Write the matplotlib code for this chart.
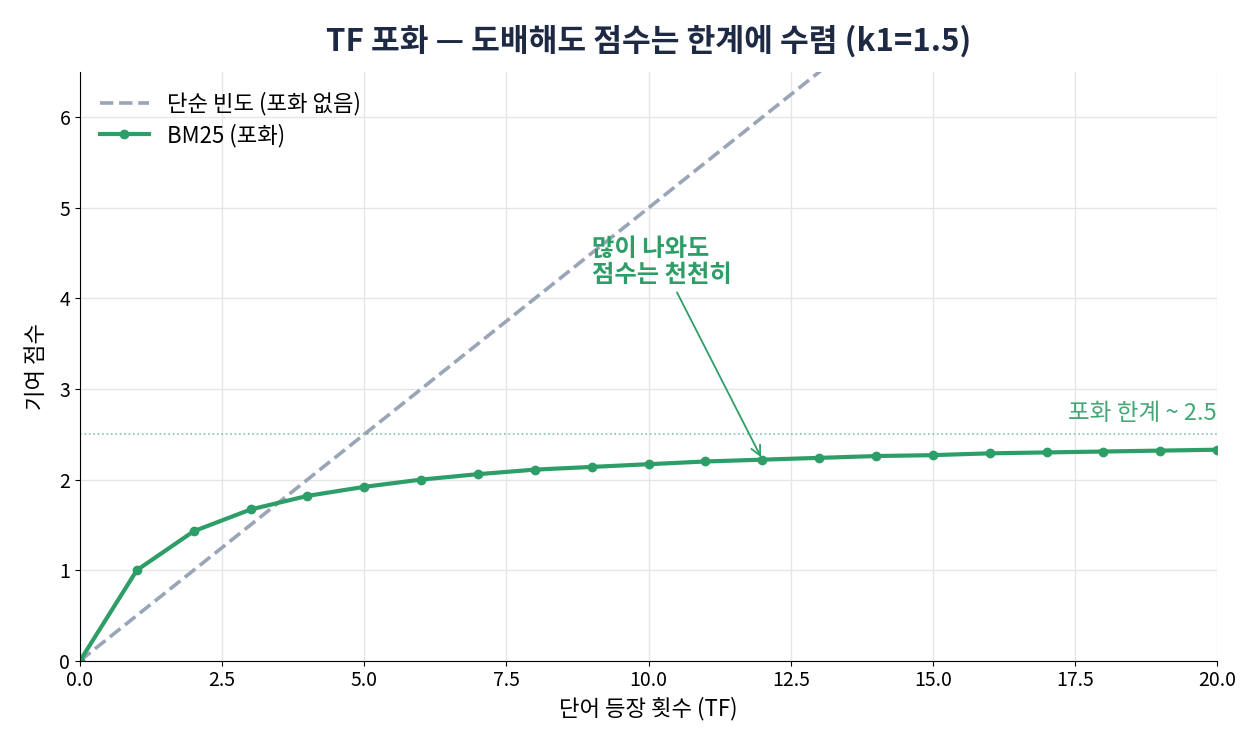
import numpy as np
import matplotlib
matplotlib.use("Agg")
import matplotlib.pyplot as plt

plt.rcParams['font.family'] = ['Noto Sans CJK KR', 'DejaVu Sans']

# 단어 등장 횟수
tf = [0, 1, 2, 3, 4, 5, 6, 7, 8, 9, 10, 11, 12, 13, 14, 15, 16, 17, 18, 19, 20]
# 단순 빈도 (포화 없음)
raw_score = [0, 0.5, 1, 1.5, 2, 2.5, 3, 3.5, 4, 4.5, 5, 5.5, 6, 6.5, 7,
             7.5, 8, 8.5, 9, 9.5, 10]
# BM25 (k1=1.5)
bm25_score = [0.0, 1.0, 1.43, 1.67, 1.82, 1.92, 2.0, 2.06, 2.11, 2.14, 2.17,
              2.2, 2.22, 2.24, 2.26, 2.27, 2.29, 2.3, 2.31, 2.32, 2.33]
limit = 2.5

green = '#2e9e68'
gray = '#9aa5b8'

fig, ax = plt.subplots(figsize=(12.6, 7.5), dpi=100)
fig.subplots_adjust(left=0.0635, right=0.966, top=0.904, bottom=0.119)

ax.plot(tf, raw_score, '--', color=gray, lw=2.6, label='단순 빈도 (포화 없음)')
ax.plot(tf, bm25_score, '-o', color=green, lw=3, ms=6, label='BM25 (포화)')
ax.axhline(limit, color=green, lw=1.2, ls=':', alpha=0.6)
ax.text(20, limit + 0.1, '포화 한계 ~ 2.5', color=green, fontsize=17,
        ha='right', va='bottom', alpha=0.9)

ax.annotate('많이 나와도\n점수는 천천히', xy=(12, bm25_score[12]), xytext=(9, 4.4),
            ha='left', va='center', color=green, fontsize=17.5, fontweight='bold',
            linespacing=1.1,
            arrowprops=dict(arrowstyle='->', color=green, lw=1.3))

ax.set_xlim(0, 20)
ax.set_ylim(0, 6.5)
ax.set_xlabel('단어 등장 횟수 (TF)', fontsize=16, labelpad=4)
ax.set_ylabel('기여 점수', fontsize=16, labelpad=8)
ax.set_title('TF 포화 — 도배해도 점수는 한계에 수렴 (k1=1.5)', fontsize=22.5,
             fontweight='bold', color='#1e2a44', pad=15)
ax.tick_params(labelsize=14)
ax.grid(True, color='#e6e6e6', lw=1)
ax.set_axisbelow(True)
for s in ['top', 'right']:
    ax.spines[s].set_visible(False)

ax.legend(loc='upper left', frameon=False, fontsize=16, handlelength=2.2,
          labelspacing=0.35)

fig.savefig('out.png', dpi=100)
